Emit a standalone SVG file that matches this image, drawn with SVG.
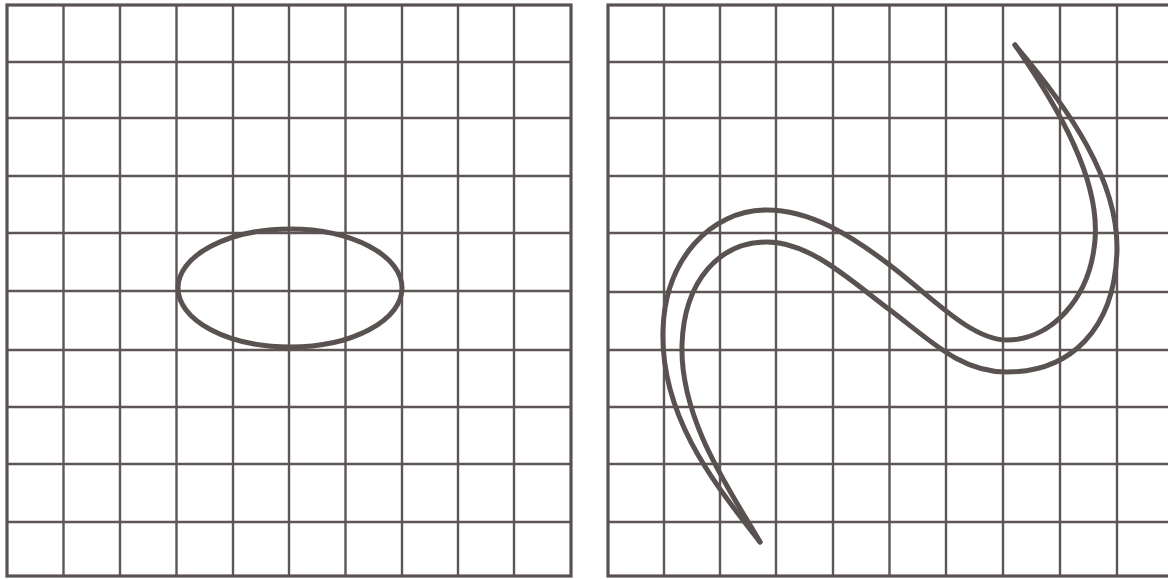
<svg xmlns="http://www.w3.org/2000/svg" width="1168" height="579" viewBox="0 0 1168 579">
<style>
.g{stroke:#5e5654;stroke-width:2.4;fill:none}
.b{stroke:#5a5250;stroke-width:3.2;fill:none}
.c{stroke:#5a5250;stroke-width:5;fill:none;stroke-linecap:round;stroke-linejoin:round}
</style>
<rect x="0" y="0" width="1168" height="579" fill="#ffffff"/>
<g id="left-grid">
<path class="g" d="M63.5 5V576M120 5V576M176.5 5V576M233 5V576M289 5V576M345.5 5V576M402 5V576M458 5V576M514 5V576"/>
<path class="g" d="M7 62H571M7 118H571M7 176H571M7 233H571M7 291H571M7 350H571M7 407H571M7 464H571M7 522H571"/>
<rect class="b" x="7" y="5" width="564" height="571"/>
</g>
<g id="ellipse">
<ellipse class="c" cx="290" cy="288" rx="112" ry="59"/>
</g>
<g id="right-grid">
<path class="g" d="M664 5V576M720 5V576M776 5V576M833 5V576M889.5 5V576M946 5V576M1003 5V576M1060 5V576M1117 5V576"/>
<path class="g" d="M608 62H1174M608 118H1174M608 176H1174M608 233H1174M608 292H1174M608 350H1174M608 407H1174M608 464H1174M608 522H1174"/>
<rect class="b" x="608" y="5" width="566" height="571"/>
</g>
<g id="s-curve">
<path class="c" d="M760 542C720 490 660 420 663 330C665 260 710 210 767 210C810 210 850 235 887 263C930 295 970 340 1007 340C1050 340 1090 300 1095 240C1100 180 1060 110 1015 45"/>
<path class="c" d="M760 542C730 490 680 420 682 345C684 280 720 242 767 242C810 242 850 280 890 310C930 340 960 372 1007 372C1070 372 1115 330 1117 250C1118 180 1070 110 1015 45"/>
</g>
</svg>
